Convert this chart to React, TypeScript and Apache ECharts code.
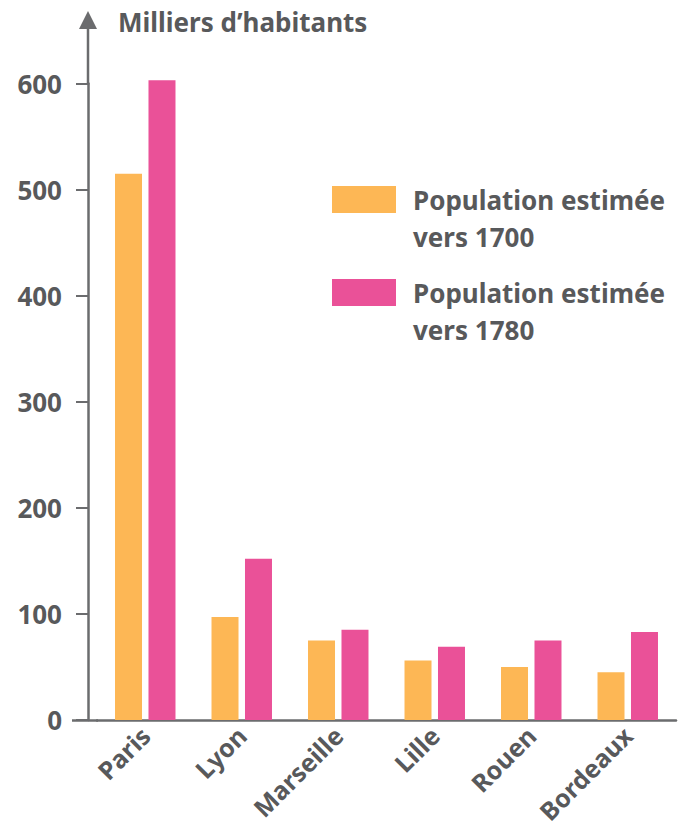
import React, { useEffect, useRef } from "react";
import * as echarts from "echarts";

const categories = ["Paris", "Lyon", "Marseille", "Lille", "Rouen", "Bordeaux"];
const pop1700 = [515, 97, 75, 56, 50, 45];
const pop1780 = [603, 152, 85, 69, 75, 83];
const seriesNames = ["Population estimée\nvers 1700", "Population estimée\nvers 1780"];
const seriesColors = ["#FDB755", "#EA5198"];
const axisTitle = "Milliers d’habitants";

const FONT = "'Noto Sans', 'Open Sans', sans-serif";
const TEXT = "#58595b";
const AXIS = "#6b6c6e";

export default function App() {
  const ref = useRef<HTMLDivElement>(null);
  useEffect(() => {
    document.body.style.margin = "0";
    const chart = echarts.init(ref.current!, null, { renderer: "svg" });
    const legendText = {
      fontFamily: FONT,
      fontSize: 26,
      fontWeight: "bold" as const,
      color: TEXT,
      lineHeight: 37,
      padding: [0, 0, 0, 12],
    };
    const legendBase = {
      left: 332,
      padding: 0,
      icon: "rect",
      itemWidth: 64,
      itemHeight: 27,
      selectedMode: false,
      formatter: (name: string) => "\n" + name,
      textStyle: legendText,
    };
    chart.setOption({
      animation: false,
      backgroundColor: "#ffffff",
      textStyle: { fontFamily: FONT },
      title: {
        text: axisTitle,
        left: 113,
        top: 4,
        textStyle: { fontFamily: FONT, fontSize: 26, fontWeight: "bold", color: TEXT },
      },
      legend: [
        { ...legendBase, data: [seriesNames[0]], top: 144 },
        { ...legendBase, data: [seriesNames[1]], top: 237 },
      ],
      grid: {
        left: 97,
        right: 3,
        top: 83.5,
        bottom: 109,
        containLabel: false,
        outerBoundsMode: "none",
      },
      xAxis: {
        type: "category",
        data: categories,
        axisLine: { show: true, lineStyle: { color: AXIS, width: 2.5 } },
        axisTick: { show: false },
        axisLabel: {
          rotate: 45,
          interval: 0,
          margin: 11,
          fontFamily: FONT,
          fontSize: 25,
          fontWeight: "bold",
          color: TEXT,
        },
      },
      yAxis: {
        type: "value",
        min: 0,
        max: 600,
        interval: 100,
        offset: 9,
        splitLine: { show: false },
        axisLine: { show: true, lineStyle: { color: AXIS, width: 2.5 } },
        axisTick: { show: true, length: 12, lineStyle: { color: AXIS, width: 2 } },
        axisLabel: {
          margin: 26,
          fontFamily: FONT,
          fontSize: 26,
          fontWeight: "bold",
          color: TEXT,
        },
      },
      graphic: [
        { type: "line", shape: { x1: 88, y1: 85, x2: 88, y2: 26 }, style: { stroke: AXIS, lineWidth: 2.5 } },
        { type: "polygon", shape: { points: [[88, 11], [79, 29], [97, 29]] }, style: { fill: AXIS } },
        { type: "line", shape: { x1: 72, y1: 720.5, x2: 98, y2: 720.5 }, style: { stroke: AXIS, lineWidth: 2.5 } },
      ],
      series: [
        {
          name: seriesNames[0],
          type: "bar",
          data: pop1700,
          barWidth: 27,
          barGap: "24%",
          clip: false,
          itemStyle: { color: seriesColors[0] },
        },
        {
          name: seriesNames[1],
          type: "bar",
          data: pop1780,
          barWidth: 27,
          clip: false,
          itemStyle: { color: seriesColors[1] },
        },
      ],
    });
    return () => chart.dispose();
  }, []);
  return <div ref={ref} style={{ width: 679, height: 829 }} />;
}
